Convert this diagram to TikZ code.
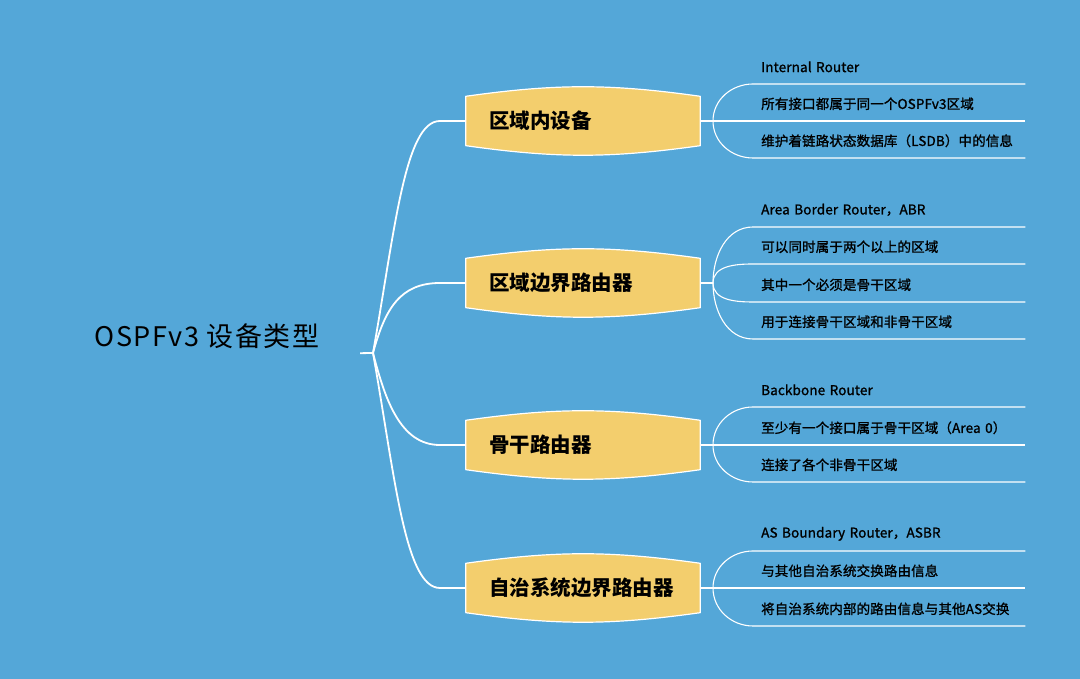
\documentclass[tikz,border=0pt]{standalone}
\usepackage{fontspec}
\setmainfont{Noto Sans CJK SC}
\newfontfamily\rootfont[LetterSpace=6]{Noto Sans CJK SC}
\newfontfamily\leaffont[FakeBold=1.2,LetterSpace=1]{Noto Sans CJK SC}
\usetikzlibrary{backgrounds}

\definecolor{skyblue}{HTML}{54A7D8}
\definecolor{topicyellow}{HTML}{F3CE6D}

\begin{document}
\begin{tikzpicture}[
	x=1pt, y=1pt,
	root/.style={minimum width=306pt, minimum height=34pt, inner sep=0pt, font=\rootfont\fontsize{27}{32}\selectfont},
	topic/.style={minimum width=234pt, minimum height=49pt, inner xsep=23pt, inner ysep=0pt, text width=188pt, align=left, font=\bfseries\fontsize{20.5}{24}\selectfont},
	topicshape/.style={fill=topicyellow, draw=white, line width=1.2pt, line join=round},
	leaf/.style={anchor=south west, minimum width=272pt, minimum height=34pt, inner xsep=8pt, inner ysep=0pt, text width=256pt, align=left, font=\leaffont\fontsize{13.5}{16}\selectfont}
	]
	
	\useasboundingbox (0,0) rectangle (1080,679);
	
	%-----------------------
	% Customizable heights
	%-----------------------
	\def\hA{558}   % Topic 1: inside one area
	\def\hB{396}   % Topic 2: area border
	\def\hC{234}   % Topic 3: backbone
	\def\hD{91}    % Topic 4: AS boundary
	
	%-----------------------
	% Root
	%-----------------------
	\node[root] (R) at (207,343) {OSPFv3 设备类型};
	\coordinate (hub) at (373,326);
	
	%-----------------------
	% Topics (yellow boxes)
	%-----------------------
	\node[topic] (T-1) at (583,\hA) {区域内设备};
	\node[topic] (T-2) at (583,\hB) {区域边界路由器};
	\node[topic] (T-3) at (583,\hC) {骨干路由器};
	\node[topic] (T-4) at (583,\hD) {自治系统边界路由器};
	
	\coordinate (E-1) at (440,\hA);
	\coordinate (E-2) at (440,\hB);
	\coordinate (E-3) at (440,\hC);
	\coordinate (E-4) at (440,\hD);
	
	\coordinate (J-1) at (713,\hA);
	\coordinate (J-2) at (713,\hB);
	\coordinate (J-3) at (713,\hC);
	\coordinate (J-4) at (713,\hD);
	
	%-----------------------
	% Leaves (text on a line)
	%-----------------------
	\node[leaf] (L1-1) at (753,595) {Internal Router};
	\node[leaf] (L1-2) at (753,558) {所有接口都属于同一个OSPFv3区域};
	\node[leaf] (L1-3) at (753,521) {维护着链路状态数据库（LSDB）中的信息};
	
	\node[leaf] (L2-1) at (753,452) {Area Border Router，ABR};
	\node[leaf] (L2-2) at (753,415) {可以同时属于两个以上的区域};
	\node[leaf] (L2-3) at (753,377) {其中一个必须是骨干区域};
	\node[leaf] (L2-4) at (753,340) {用于连接骨干区域和非骨干区域};
	
	\node[leaf] (L3-1) at (753,272) {Backbone Router};
	\node[leaf] (L3-2) at (753,234) {至少有一个接口属于骨干区域（Area 0）};
	\node[leaf] (L3-3) at (753,197) {连接了各个非骨干区域};
	
	\node[leaf] (L4-1) at (753,128) {AS Boundary Router，ASBR};
	\node[leaf] (L4-2) at (753,91) {与其他自治系统交换路由信息};
	\node[leaf] (L4-3) at (753,53) {将自治系统内部的路由信息与其他AS交换};
	
	%-----------------------
	% Box outlines and background
	%-----------------------
	\begin{scope}[on background layer]
		\fill[skyblue] (0,0) rectangle (1080,679);
		\draw[topicshape] (T-1.south west) -- (T-1.north west) to[bend left=8] (T-1.north east) -- (T-1.south east) to[bend left=8] (T-1.south west) -- cycle;
		\draw[topicshape] (T-2.south west) -- (T-2.north west) to[bend left=8] (T-2.north east) -- (T-2.south east) to[bend left=8] (T-2.south west) -- cycle;
		\draw[topicshape] (T-3.south west) -- (T-3.north west) to[bend left=8] (T-3.north east) -- (T-3.south east) to[bend left=8] (T-3.south west) -- cycle;
		\draw[topicshape] (T-4.south west) -- (T-4.north west) to[bend left=8] (T-4.north east) -- (T-4.south east) to[bend left=8] (T-4.south west) -- cycle;
	\end{scope}
	
	%-----------------------
	% Connections
	%-----------------------
	\tikzset{branch/.style={draw=white, line width=1.8pt}, twig/.style={draw=white, line width=1.1pt}}
	
	% Root -> topics
	\draw[branch] (R.south east) -- (hub);
	\draw[branch] (hub) .. controls (395,450) and (405,\hA) .. (E-1) -- (T-1.west);
	\draw[branch] (hub) .. controls (385,370) and (400,\hB) .. (E-2) -- (T-2.west);
	\draw[branch] (hub) .. controls (385,280) and (400,\hC) .. (E-3) -- (T-3.west);
	\draw[branch] (hub) .. controls (395,202) and (405,\hD) .. (E-4) -- (T-4.west);
	
	% Topics -> junctions
	\draw[twig] (T-1.east) -- (J-1);
	\draw[twig] (T-2.east) -- (J-2);
	\draw[twig] (T-3.east) -- (J-3);
	\draw[twig] (T-4.east) -- (J-4);
	
	% Junctions -> leaf lines
	\draw[twig] (J-1) to[out=90,in=180] (L1-1.south west) -- (L1-1.south east);
	\draw[twig] (J-1) -- (L1-2.south west) -- (L1-2.south east);
	\draw[twig] (J-1) to[out=-90,in=180] (L1-3.south west) -- (L1-3.south east);
	
	\draw[twig] (J-2) to[out=90,in=180] (L2-1.south west) -- (L2-1.south east);
	\draw[twig] (J-2) to[out=90,in=180] (L2-2.south west) -- (L2-2.south east);
	\draw[twig] (J-2) to[out=-90,in=180] (L2-3.south west) -- (L2-3.south east);
	\draw[twig] (J-2) to[out=-90,in=180] (L2-4.south west) -- (L2-4.south east);
	
	\draw[twig] (J-3) to[out=90,in=180] (L3-1.south west) -- (L3-1.south east);
	\draw[twig] (J-3) -- (L3-2.south west) -- (L3-2.south east);
	\draw[twig] (J-3) to[out=-90,in=180] (L3-3.south west) -- (L3-3.south east);
	
	\draw[twig] (J-4) to[out=90,in=180] (L4-1.south west) -- (L4-1.south east);
	\draw[twig] (J-4) -- (L4-2.south west) -- (L4-2.south east);
	\draw[twig] (J-4) to[out=-90,in=180] (L4-3.south west) -- (L4-3.south east);
	
\end{tikzpicture}
\end{document}
